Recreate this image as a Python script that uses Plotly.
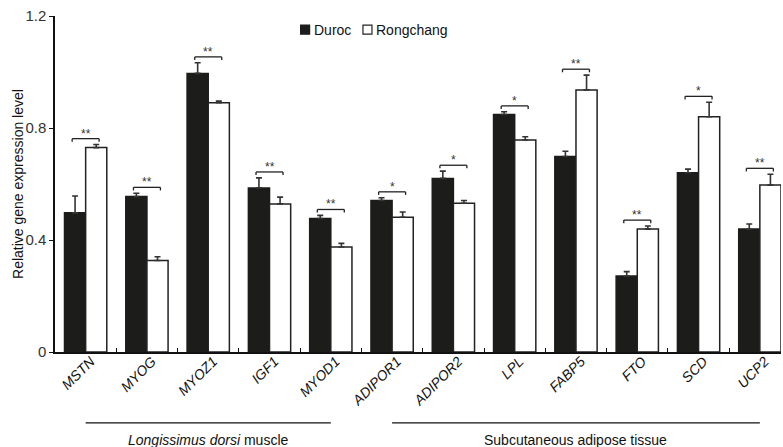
import plotly.graph_objects as go

genes = ["MSTN", "MYOG", "MYOZ1", "IGF1", "MYOD1", "ADIPOR1",
         "ADIPOR2", "LPL", "FABP5", "FTO", "SCD", "UCP2"]
duroc = [0.497, 0.555, 0.995, 0.586, 0.477, 0.541, 0.620, 0.848, 0.698, 0.271, 0.640, 0.439]
duroc_err = [0.060, 0.012, 0.038, 0.036, 0.011, 0.010, 0.026, 0.010, 0.019, 0.016, 0.013, 0.018]
rongchang = [0.730, 0.327, 0.890, 0.529, 0.375, 0.481, 0.531, 0.757, 0.936, 0.439, 0.840, 0.596]
rongchang_err = [0.011, 0.013, 0.006, 0.024, 0.013, 0.019, 0.010, 0.012, 0.053, 0.011, 0.052, 0.039]
significance = ["**", "**", "**", "**", "**", "*", "*", "*", "**", "**", "*", "**"]
tissue_labels = ["<i>Longissimus dorsi</i> muscle", "Subcutaneous adipose tissue"]
tissue_first = [0, 5]
tissue_last = [4, 11]
y_ticks = [0, 0.4, 0.8, 1.2]
y_ticktext = ["0", "0.4", "0.8", "1.2"]
y_title = "Relative gene expression level"
series_names = ["Duroc", "Rongchang"]

FONT = "Liberation Sans, Arial, sans-serif"
INK = "#1c1c1a"
fills = [INK, "white"]
edges = [INK, "#222"]

fig = go.Figure()
for name, vals, errs, fc, ec in zip(series_names, [duroc, rongchang], [duroc_err, rongchang_err], fills, edges):
    fig.add_trace(go.Bar(
        x=genes, y=vals, name=name,
        marker=dict(color=fc, line=dict(color=ec, width=1.5)),
        error_y=dict(type="data", array=errs, symmetric=False,
                     arrayminus=[0] * len(errs), color="#333", thickness=1.6, width=3),
        showlegend=False,
    ))

# significance brackets
half = 0.22
gap = 0.021
tick = 0.011
for i, g in enumerate(genes):
    top = max(duroc[i] + duroc_err[i], rongchang[i] + rongchang_err[i]) + gap
    x0, x1 = i - half, i + half
    for (a, b, c, d) in [(x0, top, x1, top), (x0, top - tick, x0, top), (x1, top - tick, x1, top)]:
        fig.add_shape(type="line", xref="x", yref="y", x0=a, y0=b, x1=c, y1=d,
                      line=dict(color="#222", width=1.3))
    fig.add_annotation(x=i, y=top, xref="x", yref="y", text=significance[i],
                       showarrow=False, yanchor="bottom", yshift=-4,
                       font=dict(family=FONT, size=12, color="#333"))

# tissue group labels
for lab, a, b in zip(tissue_labels, tissue_first, tissue_last):
    fig.add_shape(type="line", xref="x", yref="paper", x0=a, x1=b, y0=-0.211, y1=-0.211,
                  line=dict(color="#111", width=1.3))
    fig.add_annotation(x=(a + b) / 2, y=-0.262, xref="x", yref="paper", text=lab,
                       showarrow=False, yanchor="middle",
                       font=dict(family=FONT, size=14, color="#111"))

# legend (key squares + names)
legend_x = [0.3383, 0.4242]   # paper x of key squares
key_w = 0.0124
key_y0, key_y1 = 0.946, 0.973
for name, lx, fc, ec in zip(series_names, legend_x, fills, edges):
    fig.add_shape(type="rect", xref="paper", yref="paper", x0=lx, x1=lx + key_w,
                  y0=key_y0, y1=key_y1, fillcolor=fc, line=dict(color=ec, width=1.2))
    fig.add_annotation(x=lx + key_w + 0.003, y=(key_y0 + key_y1) / 2, xref="paper", yref="paper",
                       text=name, showarrow=False, xanchor="left", yanchor="middle",
                       font=dict(family=FONT, size=14, color="#111"))

# y-axis title
fig.add_annotation(x=-0.051, y=0.5, xref="paper", yref="paper", text=y_title,
                   textangle=-90, showarrow=False, xanchor="center", yanchor="middle",
                   font=dict(family=FONT, size=14, color="#111"))

fig.update_layout(
    width=783, height=447,
    margin=dict(l=55, r=2, t=16, b=95, autoexpand=False),
    paper_bgcolor="white", plot_bgcolor="white",
    barmode="group", bargap=0.31, bargroupgap=0,
    font=dict(family=FONT, color="#222"),
    showlegend=False,
)
fig.update_xaxes(
    type="category", range=[-0.5, 11.345], automargin=False,
    showline=True, linecolor="#111", linewidth=1.5,
    ticks="inside", tickson="boundaries", ticklen=4, tickcolor="#111", tickwidth=1.2,
    tickangle=-45, tickfont=dict(family=FONT, size=14, color="#111", style="italic"),
    ticklabelstandoff=-6, ticklabelshift=5,
    showgrid=False, zeroline=False,
)
fig.update_yaxes(
    range=[0, 1.2], tickvals=y_ticks, ticktext=y_ticktext, automargin=False,
    showline=True, linecolor="#111", linewidth=1.5,
    ticks="outside", ticklen=4, tickcolor="#111", tickwidth=1.2,
    tickfont=dict(family=FONT, size=15, color="#333"),
    showgrid=False, zeroline=False,
)

fig.write_html("out.html", config={"displayModeBar": False},
               post_script="document.body.style.margin='0';document.body.style.overflow='hidden';")
